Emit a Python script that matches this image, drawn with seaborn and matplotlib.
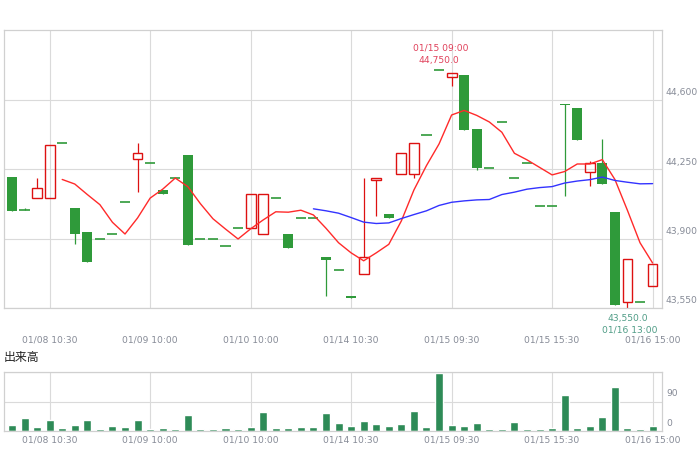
import pandas as pd
import matplotlib
matplotlib.use("Agg")
import matplotlib.pyplot as plt
import seaborn as sns

# ohlc per candle
opens = [44210, 44045, 44105, 44105, 44380, 44055, 43935, 43900, 43925, 44085,
         44300, 44280, 44145, 44205, 44320, 43900, 43900, 43865, 43955, 43955,
         43925, 44105, 43925, 44005, 44005, 43805, 43740, 43610, 43720, 44195,
         44025, 44225, 44225, 44420, 44750, 44715, 44725, 44450, 44255, 44490,
         44205, 44280, 44065, 44065, 44580, 44560, 44235, 44280, 44035, 43580,
         43580, 43660]
highs = [44210, 44055, 44205, 44370, 44380, 44055, 43935, 43900, 43925, 44085,
         44380, 44280, 44145, 44205, 44320, 43900, 43900, 43865, 43955, 44125,
         44125, 44105, 43925, 44005, 44005, 43805, 43740, 43610, 44205, 44205,
         44025, 44330, 44380, 44420, 44750, 44735, 44725, 44450, 44255, 44490,
         44205, 44280, 44065, 44065, 44580, 44560, 44290, 44400, 44035, 43795,
         43580, 43770]
lows = [44040, 44045, 44105, 44105, 44380, 43875, 43780, 43900, 43925, 44085,
        44135, 44280, 44125, 44205, 43870, 43900, 43900, 43865, 43955, 43955,
        43925, 44105, 43855, 44005, 44005, 43610, 43740, 43600, 43720, 44015,
        44005, 44225, 44205, 44420, 44750, 44670, 44445, 44245, 44255, 44490,
        44205, 44280, 44065, 44065, 44115, 44395, 44165, 44175, 43565, 43550,
        43580, 43660]
closes = [44040, 44045, 44155, 44370, 44380, 43925, 43780, 43900, 43925, 44085,
          44330, 44280, 44125, 44205, 43870, 43900, 43900, 43865, 43955, 44125,
          44125, 44105, 43855, 44005, 44005, 43790, 43740, 43600, 43805, 44205,
          44005, 44330, 44380, 44420, 44750, 44735, 44445, 44255, 44255, 44490,
          44205, 44280, 44065, 44065, 44575, 44395, 44280, 44175, 43565, 43795,
          43580, 43770]
volumes = [17, 39, 11, 33, 8, 17, 33, 5, 14, 11,
           33, 5, 8, 5, 48, 5, 5, 8, 5, 11,
           57, 8, 8, 11, 11, 54, 23, 14, 30, 20,
           14, 20, 60, 11, 179, 17, 14, 23, 5, 5,
           26, 5, 5, 8, 109, 8, 14, 42, 134, 8,
           5, 14]

# moving averages as drawn (5 starts at candle 4, 25 at candle 24)
ma5 = [44198, 44175, 44122, 44071, 43982, 43923, 44004, 44104, 44149, 44205,
       44162, 44076, 44000, 43948, 43898, 43949, 43994, 44035, 44033, 44043,
       44019, 43952, 43879, 43828, 43788, 43828, 43871, 43989, 44145, 44268,
       44377, 44523, 44546, 44521, 44488, 44436, 44330, 44297, 44259, 44221,
       44238, 44276, 44276, 44298, 44198, 44042, 43879, 43777]
ma25 = [44050, 44040, 44028, 44006, 43983, 43976, 43979, 44001, 44021, 44040,
        44067, 44083, 44090, 44095, 44097, 44122, 44134, 44149, 44157, 44162,
        44180, 44190, 44197, 44210, 44193, 44184, 44176, 44177]

tick_pos = [3, 11, 19, 27, 35, 43, 51]
tick_labels = ['01/08 10:30', '01/09 10:00', '01/10 10:00', '01/14 10:30',
               '01/15 09:30', '01/15 15:30', '01/16 15:00']
price_ticks = [43550, 43900, 44250, 44600]
vol_ticks = [0, 90]

sns.set_style("white")
plt.rcParams['font.family'] = ['DejaVu Sans']

UP = '#dd1111'
DOWN = '#2f9a3a'
VOL = '#2e8b57'
GRID = '#dadada'
LBL = '#858a96'
XLIM = (-0.61, 51.75)

df = pd.DataFrame({'open': opens, 'high': highs, 'low': lows,
                   'close': closes, 'volume': volumes})
df['idx'] = range(len(df))

fig = plt.figure(figsize=(6.98, 4.55), dpi=100)
ax = fig.add_axes([4.3 / 698, 1 - 308 / 455, 657.7 / 698, 277.7 / 455])
axv = fig.add_axes([4.3 / 698, 1 - 430.7 / 455, 657.7 / 698, 58.4 / 455])


def style_axes(a):
    for s in a.spines.values():
        s.set_color('#d0d0d0')
        s.set_linewidth(0.9)
    a.grid(True, color=GRID, lw=0.8)
    a.set_axisbelow(True)
    a.set_xlabel('')
    a.set_ylabel('')
    a.set_xticks(tick_pos)
    a.set_xticklabels(tick_labels)
    a.set_yticklabels([])
    a.tick_params(axis='both', length=0, labelsize=6.6, labelcolor=LBL)


# candles
for _, r in df.iterrows():
    i, o, h, l, c = r.idx, r.open, r.high, r.low, r.close
    if c > o:
        if h > c:
            ax.vlines(i, c, h, color=UP, lw=0.9, zorder=2)
        if l < o:
            ax.vlines(i, l, o, color=UP, lw=0.9, zorder=2)
        ax.bar(i, c - o, bottom=o, width=0.78, fill=False, edgecolor=UP,
               lw=1.0, zorder=2)
    elif c < o:
        if h > l:
            ax.vlines(i, l, h, color=DOWN, lw=0.9, zorder=2)
        ax.bar(i, max(o - c, 4), bottom=c, width=0.8, color=DOWN, lw=0, zorder=2)
    else:
        if h > l:
            ax.vlines(i, l, h, color=DOWN, lw=0.9, zorder=2)
        ax.hlines(o, i - 0.4, i + 0.4, color=DOWN, lw=1.2, zorder=2)

sns.lineplot(x=list(range(4, 52)), y=ma5, ax=ax, color='#ff2a2a', lw=1.0, zorder=3)
sns.lineplot(x=list(range(24, 52)), y=ma25, ax=ax, color='#3333ff', lw=1.0, zorder=3)

ax.set_xlim(*XLIM)
ax.set_ylim(43550, 44950)
ax.set_yticks(price_ticks)
style_axes(ax)
ax.tick_params(axis='x', pad=19.5)

for v in price_ticks:
    ax.annotate(f'{v:,}', xy=(1, v), xycoords=('axes fraction', 'data'),
                xytext=(3, 7), textcoords='offset pixels', ha='left', va='center',
                fontsize=6.6, color=LBL, annotation_clip=False)

# high / low marks
hi = df['high'].idxmax()
lo = df['low'].idxmin()
ax.annotate('01/15 09:00', xy=(hi, df['high'][hi]), xytext=(2, 22.3),
            textcoords='offset pixels', ha='center', va='center',
            fontsize=6.6, color='#e0405a', annotation_clip=False)
ax.annotate(f"{df['high'][hi]:,.1f}", xy=(hi, df['high'][hi]), xytext=(0, 9.5),
            textcoords='offset pixels', ha='center', va='center',
            fontsize=6.6, color='#e0405a', annotation_clip=False)
ax.annotate(f"{df['low'][lo]:,.1f}", xy=(lo, df['low'][lo]), xytext=(0, -10.3),
            textcoords='offset pixels', ha='center', va='center',
            fontsize=6.6, color='#4f9c86', annotation_clip=False)
ax.annotate('01/16 13:00', xy=(lo, df['low'][lo]), xytext=(2.5, -21.8),
            textcoords='offset pixels', ha='center', va='center',
            fontsize=6.6, color='#4f9c86', annotation_clip=False)

# volume
sns.barplot(data=df, x='idx', y='volume', ax=axv, color=VOL, width=0.64,
            saturation=1, errorbar=None, zorder=2)
axv.set_xlim(*XLIM)
axv.set_ylim(0, 180)
axv.set_yticks([90, 180])
style_axes(axv)
axv.tick_params(axis='x', pad=3.2)
for v in vol_ticks:
    axv.annotate(f'{v}', xy=(1, v), xycoords=('axes fraction', 'data'),
                 xytext=(4, 7.5), textcoords='offset pixels', ha='left', va='center',
                 fontsize=6.6, color=LBL, annotation_clip=False)

fig.text(4 / 698, 1 - 358 / 455, '出来高', fontsize=8.6, va='center', ha='left',
         color='#222222', family=['Noto Sans CJK JP', 'DejaVu Sans'])

fig.savefig('out.png', dpi=100)
